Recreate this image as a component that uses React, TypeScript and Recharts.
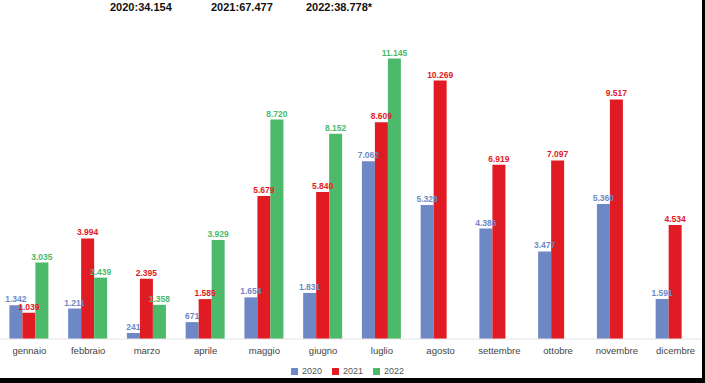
import { BarChart, Bar, XAxis, YAxis, Legend, LabelList } from 'recharts';

const MONTHS = ['gennaio', 'febbraio', 'marzo', 'aprile', 'maggio', 'giugno', 'luglio', 'agosto', 'settembre', 'ottobre', 'novembre', 'dicembre'];
const Y2020 = [1342, 1211, 241, 671, 1654, 1831, 7062, 5328, 4386, 3477, 5360, 1591];
const Y2021 = [1039, 3994, 2395, 1585, 5679, 5840, 8609, 10269, 6919, 7097, 9517, 4534];
const Y2022: (number | null)[] = [3035, 2439, 1358, 3929, 8720, 8152, 11145, null, null, null, null, null];
const TOTALS = [
  { label: '2020:34.154', x: 110 },
  { label: '2021:67.477', x: 211 },
  { label: '2022:38.778*', x: 306 },
];

const BLUE = '#6e88c6';
const RED = '#e11b24';
const GREEN = '#4cba6a';

const data = MONTHS.map((m, i) => ({ month: m, y2020: Y2020[i], y2021: Y2021[i], y2022: Y2022[i] }));

// 1342 -> "1.342"
const fmt = (v: any) => (v == null ? '' : String(v).replace(/\B(?=(\d{3})+(?!\d))/g, '.'));

const labelStyle = { fontSize: 8.5, fontWeight: 700, fontFamily: 'Liberation Sans, Arial, sans-serif' };

export default function App() {
  return (
    <div style={{ position: 'absolute', left: 0, top: 0, width: 705, height: 383, background: '#fff', overflow: 'hidden' }}>
      {TOTALS.map(t => (
        <div key={t.label} style={{ position: 'absolute', left: t.x, top: 1, lineHeight: '12px', fontFamily: 'Liberation Sans, Arial, sans-serif', fontWeight: 700, fontSize: 11, color: '#111', whiteSpace: 'nowrap' }}>
          {t.label}
        </div>
      ))}
      <BarChart width={705} height={383} data={data} margin={{ top: 37, right: 0, left: 0, bottom: 0 }} barCategoryGap="16%" barGap={0}>
        <XAxis dataKey="month" height={20} tickLine={false} axisLine={{ stroke: '#e4e4e4' }}
          tick={{ fill: '#444', fontSize: 9.5, fontFamily: 'Liberation Sans, Arial, sans-serif' }} interval={0} />
        <YAxis hide domain={[0, 12000]} />
        <Legend verticalAlign="bottom" iconType="square" iconSize={7}
          wrapperStyle={{ height: 24, boxSizing: 'border-box', paddingTop: 7, fontSize: 9, fontFamily: 'Liberation Sans, Arial, sans-serif' }}
          formatter={(v: string) => <span style={{ color: '#555' }}>{v}</span>} />
        <Bar dataKey="y2020" name="2020" fill={BLUE} isAnimationActive={false}>
          <LabelList dataKey="y2020" position="top" offset={3} formatter={fmt} style={{ ...labelStyle, fill: BLUE }} />
        </Bar>
        <Bar dataKey="y2021" name="2021" fill={RED} isAnimationActive={false}>
          <LabelList dataKey="y2021" position="top" offset={3} formatter={fmt} style={{ ...labelStyle, fill: RED }} />
        </Bar>
        <Bar dataKey="y2022" name="2022" fill={GREEN} isAnimationActive={false}>
          <LabelList dataKey="y2022" position="top" offset={3} formatter={fmt} style={{ ...labelStyle, fill: GREEN }} />
        </Bar>
      </BarChart>
      <div style={{ position: 'absolute', right: 0, top: 0, width: 3, height: 383, background: '#000' }} />
      <div style={{ position: 'absolute', left: 0, bottom: 0, width: 705, height: 5, background: '#000' }} />
    </div>
  );
}
